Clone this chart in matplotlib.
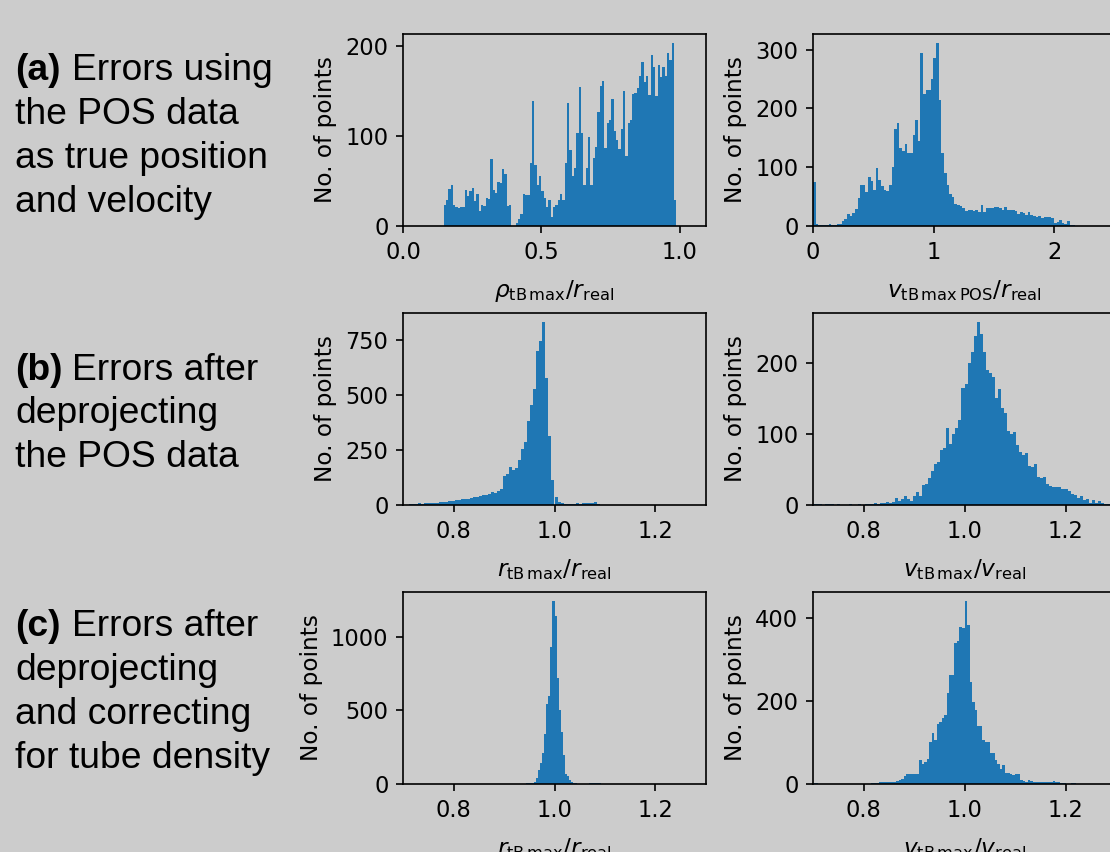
import numpy as np
import matplotlib.pyplot as plt

# bin counts
a_rho_counts = [23, 29, 41, 45, 23, 21, 20, 21, 21, 40, 33, 39, 42, 28, 35, 17, 23, 22, 31, 30,
                74, 40, 37, 49, 48, 63, 58, 22, 23, 0, 0, 3, 8, 13, 36, 34, 34, 70, 139, 68,
                45, 55, 39, 31, 21, 29, 10, 21, 23, 29, 35, 29, 70, 136, 84, 55, 64, 103, 154, 103,
                45, 64, 99, 45, 75, 88, 127, 155, 161, 87, 114, 118, 141, 106, 95, 86, 108, 150, 78, 114,
                118, 147, 148, 153, 166, 182, 160, 167, 145, 190, 177, 144, 179, 165, 177, 166, 192, 184, 203, 29]
a_v_counts = [75, 3, 2, 1, 2, 1, 3, 1, 2, 3, 4, 8, 12, 21, 17, 22, 29, 48, 70, 69,
              58, 83, 76, 62, 98, 78, 68, 62, 60, 70, 100, 165, 175, 133, 127, 140, 125, 125, 155, 180,
              145, 295, 225, 232, 232, 250, 285, 311, 215, 124, 90, 70, 55, 50, 37, 35, 34, 30, 25, 28,
              27, 26, 27, 24, 35, 24, 30, 31, 31, 32, 32, 31, 28, 33, 28, 28, 27, 25, 21, 24,
              22, 18, 24, 18, 17, 16, 17, 14, 15, 16, 15, 14, 5, 6, 10, 5, 3, 9, 2, 2]
b_r_counts = [3, 6, 4, 7, 5, 8, 7, 9, 9, 11, 12, 13, 15, 17, 19, 21, 23, 26, 27, 28,
              30, 38, 35, 42, 46, 46, 48, 60, 55, 62, 72, 130, 140, 172, 160, 170, 205, 255, 285, 380,
              455, 525, 700, 745, 830, 575, 315, 115, 35, 15, 8, 5, 3, 6, 6, 8, 5, 8, 10, 9,
              8, 14, 4, 2, 2, 1, 1, 1]
b_v_counts = [1, 2, 1, 0, 1, 2, 1, 0, 1, 0, 0, 0, 1, 0, 0, 1, 0, 2, 2, 2,
              3, 2, 3, 3, 4, 3, 4, 10, 5, 8, 12, 9, 6, 12, 18, 12, 28, 30, 38, 48,
              58, 60, 78, 80, 108, 86, 100, 108, 120, 165, 170, 200, 215, 237, 257, 240, 215, 190, 185, 180,
              150, 163, 136, 130, 104, 100, 102, 84, 75, 70, 73, 55, 54, 57, 40, 38, 40, 30, 27, 25,
              26, 25, 22, 23, 20, 16, 14, 10, 12, 7, 8, 3, 7, 3, 6, 3, 1, 1, 0, 1]
c_r_counts = [1, 1, 0, 1, 1, 2, 2, 3, 2, 3, 4, 5, 6, 8, 15, 40, 95, 140, 210, 340,
              540, 600, 930, 1240, 1140, 720, 500, 350, 200, 70, 55, 30, 15, 8, 5, 3, 3, 3, 2, 2,
              3, 4, 5, 4, 6, 5, 4, 3, 2, 1]
c_v_counts = [3, 2, 1, 0, 1, 0, 0, 1, 0, 0, 1, 0, 0, 0, 1, 0, 0, 1, 0, 0,
              1, 0, 1, 3, 2, 3, 4, 5, 4, 6, 5, 4, 5, 8, 10, 12, 20, 23, 23, 24,
              24, 24, 57, 47, 53, 60, 100, 122, 105, 145, 148, 160, 165, 220, 262, 262, 340, 345, 378, 375,
              440, 382, 245, 198, 178, 140, 140, 105, 100, 100, 75, 75, 57, 47, 37, 45, 27, 27, 25, 22,
              24, 24, 10, 8, 6, 10, 8, 4, 6, 5, 5, 5, 5, 5, 6, 8, 6, 6, 3, 2,
              1, 1, 3, 3, 1, 1, 0, 0, 1, 0, 0, 1, 0, 0, 0, 1, 0, 0, 0, 0]

# bin ranges (start, stop)
a_rho_range = (0.147, 0.987)
a_v_range = (0.0, 2.17)
b_r_range = (0.712, 0.712 + 0.006 * len(b_r_counts))
b_v_range = (0.70, 1.30)
c_r_range = (0.904, 0.904 + 0.004 * len(c_r_counts))
c_v_range = (0.70, 1.30)

row_texts = [
    ("(a)", ["Errors using", "the POS data", "as true position", "and velocity"]),
    ("(b)", ["Errors after", "deprojecting", "the POS data"]),
    ("(c)", ["Errors after", "deprojecting", "and correcting", "for tube density"]),
]

xlabel_b = r"$r_{\mathrm{tB\,max}}/r_{\mathrm{real}}$"
xlabel_v = r"$v_{\mathrm{tB\,max}}/v_{\mathrm{real}}$"
panels = [
    (a_rho_counts, a_rho_range, (0, 1.094), [0.0, 0.5, 1.0], [0, 100, 200],
     r"$\rho_{\mathrm{tB\,max}}/r_{\mathrm{real}}$"),
    (a_v_counts, a_v_range, (0, 2.51), [0, 1, 2], [0, 100, 200, 300],
     r"$v_{\mathrm{tB\,max\,POS}}/r_{\mathrm{real}}$"),
    (b_r_counts, b_r_range, (0.7, 1.3), [0.8, 1.0, 1.2], [0, 250, 500, 750], xlabel_b),
    (b_v_counts, b_v_range, (0.7, 1.3), [0.8, 1.0, 1.2], [0, 100, 200], xlabel_v),
    (c_r_counts, c_r_range, (0.7, 1.3), [0.8, 1.0, 1.2], [0, 500, 1000], xlabel_b),
    (c_v_counts, c_v_range, (0.7, 1.3), [0.8, 1.0, 1.2], [0, 200, 400], xlabel_v),
]

W, H = 1110, 852
bg = '#cccccc'
plt.rcParams['xtick.labelsize'] = 10.8
plt.rcParams['ytick.labelsize'] = 10.8
plt.rcParams['axes.labelsize'] = 11.2
fig = plt.figure(figsize=(W / 150, H / 150), dpi=150, facecolor=bg)

# axes boxes in pixels: left, top, width, height
col_left = [403, 813]
row_top = [34, 313, 592]
ax_w, ax_h = 303, 192

for i, (counts, rng, xlim, xt, yt, xlab) in enumerate(panels):
    r, c = divmod(i, 2)
    l, t = col_left[c], row_top[r]
    ax = fig.add_axes([l / W, 1 - (t + ax_h) / H, ax_w / W, ax_h / H])
    ax.set_facecolor(bg)
    edges = np.linspace(rng[0], rng[1], len(counts) + 1)
    ax.hist(edges[:-1], bins=edges, weights=counts, color='#1f77b4')
    ax.set_xlim(*xlim)
    ax.set_xticks(xt)
    ax.set_yticks(yt)
    ax.set_xlabel(xlab, labelpad=7)
    ax.set_ylabel("No. of points")

# left-hand row descriptions
baselines = [[80, 124, 168, 212], [380, 423, 467], [636, 680, 724, 768]]
fs = 17.9
for (tag, lines), ys in zip(row_texts, baselines):
    fig.text(15 / W, 1 - ys[0] / H, tag, fontsize=fs, fontweight='bold',
             family='Liberation Sans', va='baseline')
    fig.text(72 / W, 1 - ys[0] / H, lines[0], fontsize=fs,
             family='Liberation Sans', va='baseline')
    for line, y in zip(lines[1:], ys[1:]):
        fig.text(15 / W, 1 - y / H, line, fontsize=fs,
                 family='Liberation Sans', va='baseline')

fig.savefig('out.png', dpi=150, facecolor=bg)
